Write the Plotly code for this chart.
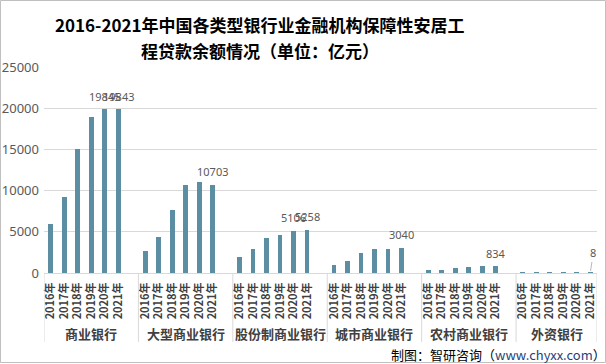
import plotly.graph_objects as go

groups = ["商业银行", "大型商业银行", "股份制商业银行", "城市商业银行", "农村商业银行", "外资银行"]
years = ["2016年", "2017年", "2018年", "2019年", "2020年", "2021年"]

v_commercial = [6000, 9200, 15050, 18950, 19845, 19843]
v_large = [2700, 4400, 7700, 10650, 11000, 10703]
v_joint = [1980, 2870, 4300, 4670, 5106, 5258]
v_city = [1000, 1480, 2450, 2930, 2960, 3040]
v_rural = [350, 420, 600, 740, 790, 834]
v_foreign = [50, 40, 30, 25, 15, 8]
series = [v_commercial, v_large, v_joint, v_city, v_rural, v_foreign]

# which years carry a value label in each group
labeled_years = [
    ["2020年", "2021年"],
    ["2021年"],
    ["2020年", "2021年"],
    ["2021年"],
    ["2021年"],
    ["2021年"],
]

title_lines = ["2016-2021年中国各类型银行业金融机构保障性安居工", "程贷款余额情况（单位：亿元）"]
y_ticks = [0, 5000, 10000, 15000, 20000, 25000]

SLOT = len(years) + 1  # one empty slot after each group
xs, ys, tickvals, ticktext = [], [], [], []
for g, vals in enumerate(series):
    for i, v in enumerate(vals):
        xs.append(g * SLOT + i)
        ys.append(v)
        tickvals.append(g * SLOT + i)
        ticktext.append("<b>" + years[i] + "</b>")

x_min = -0.5
x_max = (len(groups) - 1) * SLOT + len(years) - 0.5

fig = go.Figure()
fig.add_trace(go.Bar(x=xs, y=ys, width=0.36, marker=dict(color="#5B8EA3", line=dict(width=0)),
                     hoverinfo="x+y"))

CJK = "Noto Sans CJK SC"
annotations = []
shapes = []
for g, name in enumerate(groups):
    start = g * SLOT - 0.5
    end = min(g * SLOT + SLOT - 0.5, x_max)
    annotations.append(dict(x=(start + end) / 2, y=-0.293, xref="x", yref="paper",
                            text="<b>" + name + "</b>", showarrow=False,
                            font=dict(family=CJK, size=13, color="#404040"),
                            xanchor="center", yanchor="middle"))
    for i, yr in enumerate(years):
        if yr in labeled_years[g]:
            v = series[g][i]
            if v < 300:
                annotations.append(dict(x=g * SLOT + i, y=v, xref="x", yref="y",
                                        text=str(v), showarrow=True, arrowhead=0,
                                        arrowwidth=0.8, arrowcolor="#A6A6A6",
                                        ax=3, ay=-20, standoff=2,
                                        font=dict(family="Noto Sans", size=11, color="#595959")))
            else:
                annotations.append(dict(x=g * SLOT + i, y=v, xref="x", yref="y",
                                        text=str(v), showarrow=False, yshift=13,
                                        font=dict(family="Noto Sans", size=11, color="#595959"),
                                        xanchor="center", yanchor="middle"))
bounds = [g * SLOT - 0.5 for g in range(len(groups))] + [x_max]
for b in bounds:
    shapes.append(dict(type="line", xref="x", yref="paper", x0=b, x1=b, y0=0, y1=-0.335,
                       line=dict(color="#D9D9D9", width=1)))

# outer frame
shapes.append(dict(type="rect", xref="paper", yref="paper",
                   x0=-0.0787, x1=1.0154, y0=-0.4345, y1=1.3228,
                   line=dict(color="#BFBFBF", width=1)))

# two-line title
for k, line in enumerate(title_lines):
    annotations.append(dict(x=(260 - 44) / 553, y=1.2039 - k * 0.1214, xref="paper", yref="paper",
                            text="<b>" + line + "</b>", showarrow=False,
                            xanchor="center", yanchor="middle",
                            font=dict(family=CJK, size=17, color="#000000")))

annotations.append(dict(x=1.02, y=-0.395, xref="paper", yref="paper",
                        text="制图：智研咨询（<span style='color:#1F3F7A'>www.chyxx.com</span>）",
                        showarrow=False, xanchor="right", yanchor="middle",
                        font=dict(family=CJK, size=13, color="#000000")))

fig.update_layout(
    width=606, height=364,
    margin=dict(l=44, r=9, t=67, b=91),
    paper_bgcolor="white", plot_bgcolor="white",
    showlegend=False,
    xaxis=dict(range=[x_min, x_max], tickvals=tickvals, ticktext=ticktext, tickangle=-90,
               showgrid=False, zeroline=False, showline=True, linecolor="#D9D9D9",
               ticks="", ticklabelstandoff=4, automargin=False,
               tickfont=dict(family=CJK, size=11, color="#404040")),
    yaxis=dict(range=[0, 25000], tickvals=y_ticks, ticktext=[str(t) for t in y_ticks],
               showgrid=True, gridcolor="#D9D9D9", automargin=False,
               zeroline=False, ticks="", ticklabelstandoff=4,
               tickfont=dict(family="Noto Sans", size=13, color="#595959")),
    annotations=annotations, shapes=shapes,
    bargap=0,
)

fig.write_html("out.html", config={"displayModeBar": False},
               post_script="document.body.style.margin='0';document.body.style.overflow='hidden';")
